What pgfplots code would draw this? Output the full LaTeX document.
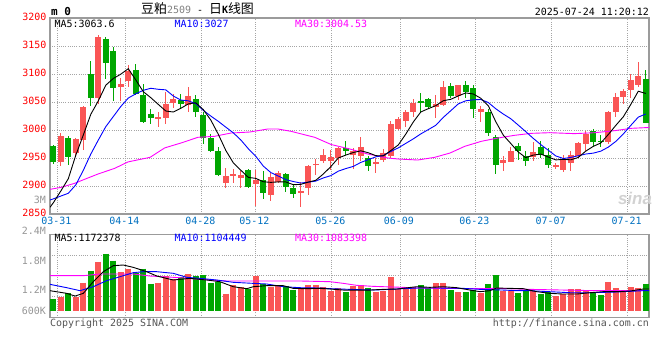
\documentclass[border=0pt]{standalone}
\usepackage{pgfplots}
\pgfplotsset{compat=1.18}
\usepackage{pgfplotstable}
\usepackage{fontspec}
\setmainfont{DejaVu Sans Mono}
\newfontfamily\mono{DejaVu Sans Mono}
\newfontfamily\cjk{Noto Sans CJK SC}
\newfontfamily\lsans{Liberation Sans}
\definecolor{kred}{RGB}{250,85,85}
\definecolor{kgreen}{RGB}{0,166,0}
\definecolor{maten}{RGB}{0,0,255}
\definecolor{mathirty}{RGB}{255,0,255}
\definecolor{datec}{RGB}{0,112,192}
\definecolor{framec}{RGB}{155,155,155}
\definecolor{gridc}{RGB}{165,165,165}
\definecolor{labgray}{RGB}{150,150,150}
\definecolor{footc}{RGB}{85,85,85}

% i open high low close  (red = close above open)
\pgfplotstableread{
i o h l c
1 2942 2994 2935 2990
3 2959.5 2985 2951 2984
4 2983 3042 2965 3040.5
6 3057 3170 3046 3165.5
9 3077 3093 3052 3082
10 3087 3116.7 3076 3106
14 3020.5 3032 3005 3022.5
15 3021 3068 3011 3047
16 3048 3064 3040 3056
18 3044 3077 3033 3061
23 2904.5 2932 2896 2917
24 2919.5 2931 2905 2921.5
25 2915 2926 2896 2920
27 2904 2929 2864 2911
29 2884.5 2923 2874 2915.5
30 2908 2926 2905 2924
33 2889 2908 2862 2891
34 2896 2938 2884.5 2936
35 2938 2949 2920 2940
36 2944 2966.7 2941 2955
37 2944 2964 2928 2952
38 2950 2969 2938 2967
40 2956 2968 2931 2963
41 2953.6 2987 2944 2970
43 2940 2950 2924 2942
44 2946 2966.7 2943 2959.5
45 2953 3016.7 2950 3011
46 3002.4 3024 3000 3020
47 3015.5 3036 3005 3032
48 3031.6 3056 3024 3048.8
51 3040.5 3062 3021 3047
52 3045 3088 3042 3076
54 3061 3081 3054 3080
57 3033 3042 3014 3038
60 2940.5 2953 2926 2947
61 2943 2970 2942 2963
64 2951 2978 2944 2960
67 2935 2941 2931 2937
68 2929 2956 2924.4 2949
69 2941 2962 2927 2956
70 2953 2978 2950 2977
71 2975.6 2997.6 2962 2993.5
74 2978 3034.6 2975 3031.6
75 3031.6 3065.5 3023 3058.3
76 3059.5 3074 3046 3070
77 3072 3100 3057 3089
78 3080 3121.4 3077.6 3097
}\redK

\pgfplotstableread{
i o h l c
0 2972 2973 2939 2942
2 2986 2990 2938 2951
5 3100 3122.6 3042 3057
7 3163 3165.5 3091.7 3119
8 3141.7 3149 3052 3075
11 3108 3118 3062 3065
12 3062 3082 3012 3014
13 3029 3037.5 3011 3021.4
17 3053 3064 3039 3047
19 3056 3063 3023 3032
20 3026 3033 2975 2986
21 2986 2993 2960 2963
22 2963 2970 2918 2920
26 2928 2931 2897 2899
28 2911 2926 2876 2887
31 2922 2924 2890 2899
32 2897 2904 2878.6 2886
39 2967 2980 2956 2962
42 2950 2953 2927 2935
49 3051 3066 3031.6 3049
50 3056 3057 3037.5 3040.5
53 3078 3084 3058 3061
55 3080 3088 3058 3067
56 3075 3080 3021 3037.5
58 3032 3038 2988.7 2994.6
59 2987.5 2990.5 2921 2937
62 2971 2977 2947 2962
63 2953 2962 2935 2944
65 2969 2980 2950 2956
66 2956 2968 2932 2937
72 2997.6 3002 2972 2978.6
73 2981 2990.5 2969 2979
79 3091.7 3107.7 3012 3012
}\greenK

% volume, millions
\pgfplotstableread{
i v
1 1.065
3 1.065
4 1.350
6 1.777
9 1.560
10 1.634
14 1.350
15 1.485
16 1.431
18 1.533
23 1.126
24 1.296
25 1.261
27 1.492
29 1.268
30 1.289
33 1.234
34 1.302
35 1.302
36 1.268
37 1.187
38 1.234
40 1.282
41 1.296
43 1.167
44 1.187
45 1.465
46 1.214
47 1.214
48 1.268
51 1.343
52 1.343
54 1.160
57 1.146
60 1.180
61 1.180
64 1.187
67 1.078
68 1.119
69 1.221
70 1.221
71 1.187
74 1.363
75 1.234
76 1.187
77 1.261
78 1.241
}\redV

\pgfplotstableread{
i v
0 1.018
2 1.137
5 1.594
7 1.939
8 1.797
11 1.553
12 1.634
13 1.329
17 1.472
19 1.492
20 1.506
21 1.350
22 1.370
26 1.221
28 1.316
31 1.289
32 1.207
39 1.160
42 1.241
49 1.302
50 1.248
53 1.200
55 1.160
56 1.200
58 1.323
59 1.506
62 1.137
63 1.187
65 1.119
66 1.160
72 1.133
73 1.099
79 1.323
}\greenV

\pgfplotsset{
  klstyle/.style={
    scale only axis, anchor=south west, width=599bp,
    xmin=-0.44, xmax=79.43,
    axis line style={draw=framec, line width=1.4bp},
    xtick={0.53,9.6,19.73,26.93,37.07,46.22,56.27,66.45,76.59},
    major tick length=0pt,
    grid=major,
    grid style={draw=gridc, line width=0.8bp, dash pattern=on 1bp off 1.2bp},
    tick label style={font=\mono\fontsize{10}{10}\selectfont},
  },
  wick/.style={draw=none, no markers, error bars/.cd, y dir=both, y explicit, error mark=none,
    error bar style={draw=#1, line width=1bp, line cap=butt}},
  body/.style={draw=none, no markers, error bars/.cd, y dir=both, y explicit, error mark=none,
    error bar style={draw=#1, line width=6bp, line cap=butt}},
  volbar/.style={draw=none, no markers, error bars/.cd, y dir=minus, y explicit, error mark=none,
    error bar style={draw=#1, line width=6bp, line cap=butt}},
}

\begin{document}
\begin{tikzpicture}[x=1bp,y=1bp]
\useasboundingbox (0,0) rectangle (660,360);

% ---------- price panel ----------
\begin{axis}[klstyle, at={(50bp,146bp)}, height=196bp,
  ymin=2850, ymax=3200,
  ytick={2850,2900,2950,3000,3050,3100,3150,3200},
  yticklabels={2850,2900,2950,3000,3050,3100,3150,3200},
  xticklabels={03-31,04-14,04-28,05-12,05-26,06-09,06-23,07-07,07-21},
  xticklabel style={text=datec, xshift=-1bp},
  yticklabel style={text=red, yshift=1.5bp},
]
\addplot[wick=kred] table[x=i, y expr=(\thisrow{h}+\thisrow{l})/2, y error expr=(\thisrow{h}-\thisrow{l})/2] {\redK};
\addplot[body=kred] table[x=i, y expr=(\thisrow{o}+\thisrow{c})/2, y error expr={max(abs(\thisrow{c}-\thisrow{o})/2,0.9)}] {\redK};
\addplot[wick=kgreen] table[x=i, y expr=(\thisrow{h}+\thisrow{l})/2, y error expr=(\thisrow{h}-\thisrow{l})/2] {\greenK};
\addplot[body=kgreen] table[x=i, y expr=(\thisrow{o}+\thisrow{c})/2, y error expr={max(abs(\thisrow{c}-\thisrow{o})/2,0.9)}] {\greenK};
% MA30
\addplot[mathirty, line width=0.9bp] coordinates {(-0.44,2894) (1.07,2897.7) (2.85,2904.8) (4.18,2912) (5.96,2921.4) (8.18,2931.5) (9.96,2943) (12.9,2951.2) (14.85,2968) (17.07,2977) (19.3,2987) (21.5,2988.7) (23.7,2994.6) (26.2,2996.4) (28.6,3001.8) (29.96,3001.8) (31.7,2997.6) (34.85,2987) (37.07,2974) (39.56,2966) (41.96,2957) (44.6,2950) (45.96,2948.2) (48.6,2946.4) (50.85,2951.2) (52.9,2958.9) (54.85,2970.8) (57.07,2979.8) (59.3,2985.7) (61.5,2990.5) (63.7,2994) (66.2,2995.2) (69.5,2993.5) (72.2,2995.2) (74.85,2998.8) (77.07,3003) (79.43,3004.5)};
% MA10
\addplot[maten, line width=0.9bp] coordinates {(-0.44,2875) (0,2877) (1,2882) (2,2887) (3,2902) (4,2928) (5,2957) (6,2982) (7,3006) (8,3024) (9,3042) (10,3057.1) (11,3064.6) (12,3070.9) (13,3074.5) (14,3072.7) (15,3071.7) (16,3060.7) (17,3053.5) (18,3052.1) (19,3047.1) (20,3035.1) (21,3024.9) (22,3015.5) (23,3005.1) (24,2995) (25,2982.3) (26,2966.6) (27,2953) (28,2935.6) (29,2924) (30,2917.8) (31,2911.4) (32,2908) (33,2905.3) (34,2906.8) (35,2908.8) (36,2914.4) (37,2918.5) (38,2926.5) (39,2931.1) (40,2935) (41,2942.1) (42,2947) (43,2952.1) (44,2954.5) (45,2961.6) (46,2968.1) (47,2976.1) (48,2984.2) (49,2993) (50,3000.7) (51,3008.4) (52,3022.5) (53,3034.5) (54,3046.6) (55,3052.2) (56,3053.9) (57,3054.5) (58,3049.1) (59,3037.9) (60,3028.5) (61,3020.1) (62,3008.7) (63,2997) (64,2985) (65,2973.9) (66,2963.9) (67,2953.7) (68,2949.1) (69,2951) (70,2954) (71,2957.1) (72,2958.7) (73,2962.2) (74,2969.4) (75,2979.6) (76,2992.9) (77,3008.2) (78,3023) (79,3028.6)};
% MA5
\addplot[black, line width=0.9bp] coordinates {(-0.44,2862) (0,2870) (1,2891) (2,2913) (3,2955) (4,2991) (5,3028) (6,3052) (7,3080) (8,3092) (9,3099.7) (10,3109.5) (11,3089.4) (12,3068.4) (13,3057.7) (14,3045.7) (15,3033.9) (16,3032.1) (17,3038.7) (18,3046.6) (19,3048.6) (20,3036.4) (21,3017.8) (22,2992.4) (23,2963.6) (24,2941.4) (25,2928.2) (26,2915.4) (27,2913.6) (28,2907.6) (29,2906.5) (30,2907.3) (31,2907.3) (32,2902.3) (33,2902.9) (34,2907) (35,2910.2) (36,2921.4) (37,2934.6) (38,2950) (39,2955.2) (40,2959.8) (41,2962.8) (42,2959.4) (43,2954.2) (44,2953.7) (45,2963.3) (46,2973.3) (47,2992.7) (48,3014.3) (49,3032.2) (50,3038.1) (51,3043.5) (52,3052.3) (53,3054.8) (54,3060.9) (55,3066.2) (56,3064.3) (57,3056.7) (58,3043.4) (59,3014.8) (60,2990.8) (61,2975.9) (62,2960.7) (63,2950.6) (64,2955.2) (65,2957) (66,2951.8) (67,2946.6) (68,2947.6) (69,2946.8) (70,2951) (71,2962.3) (72,2970.8) (73,2976.8) (74,2991.9) (75,3008.2) (76,3023.5) (77,3045.6) (78,3069.2) (79,3065.3)};
\end{axis}

% ---------- volume panel ----------
\begin{axis}[klstyle, at={(50bp,42.3bp)}, height=83.4bp,
  ymin=0.638, ymax=2.333,
  ytick={1.079,1.5,1.912}, yticklabels={}, xticklabels={},
]
\addplot[volbar=kred] table[x=i, y=v, y error expr=\thisrow{v}-0.781] {\redV};
\addplot[volbar=kgreen] table[x=i, y=v, y error expr=\thisrow{v}-0.781] {\greenV};
% MA30 volume
\addplot[mathirty, line width=0.9bp] coordinates {(-0.44,1.492) (4,1.492) (6.2,1.526) (10.67,1.526) (12.9,1.485) (16.9,1.451) (19.56,1.418) (23.1,1.384) (28.45,1.384) (32.9,1.384) (36.9,1.370) (38.67,1.336) (40.45,1.296) (42.67,1.275) (46.67,1.255) (48.45,1.241) (51.56,1.234) (56.45,1.228) (59.1,1.234) (63.56,1.214) (68,1.2) (72.45,1.187) (79.43,1.194)};
% MA10 volume
\addplot[maten, line width=0.9bp] coordinates {(-0.44,1.316) (1.79,1.248) (3.56,1.187) (5.33,1.268) (7.1,1.390) (8.9,1.472) (10.67,1.553) (12,1.573) (13.8,1.573) (16,1.540) (17.8,1.458) (19.56,1.438) (21.8,1.404) (24,1.357) (26.67,1.336) (28.45,1.323) (30.67,1.268) (32.9,1.248) (35.56,1.241) (36.9,1.228) (39.56,1.214) (42.67,1.2) (45.8,1.221) (48.45,1.241) (51.56,1.241) (54.67,1.234) (56.9,1.214) (60,1.2) (61.8,1.187) (63.56,1.187) (65.3,1.173) (67.1,1.160) (68.9,1.146) (71.56,1.146) (75.1,1.160) (78.67,1.187) (79.43,1.187)};
% MA5 volume
\addplot[black, line width=0.9bp] coordinates {(-0.44,1.187) (1.79,1.133) (2.9,1.078) (4,1.133) (5.33,1.370) (6.67,1.573) (8,1.695) (9.33,1.709) (10.67,1.661) (12.45,1.573) (13.8,1.485) (16,1.404) (18.2,1.438) (20.45,1.404) (22.2,1.370) (24,1.268) (25.8,1.228) (26.67,1.268) (28.45,1.289) (30.67,1.289) (32,1.234) (33.8,1.228) (35.56,1.234) (36.9,1.221) (38.67,1.2) (40.45,1.2) (42.2,1.2) (44,1.214) (45.8,1.221) (48.45,1.268) (50.2,1.255) (52,1.268) (53.8,1.248) (55.56,1.2) (56.9,1.167) (58.2,1.187) (59.1,1.241) (60.9,1.234) (62.67,1.228) (64.45,1.167) (66.2,1.133) (68,1.119) (69.8,1.119) (71.56,1.146) (73.3,1.167) (75.1,1.167) (76.9,1.180) (78.67,1.221) (79.43,1.221)};
\end{axis}

% ---------- texts ----------
\begin{scope}[every node/.style={inner sep=0pt, font=\mono\fontsize{10}{10}\selectfont}]
\node[anchor=west, font=\mono\bfseries\fontsize{11}{11}\selectfont] at (51,348) {m 0};
\node[anchor=west] at (141,351) {{\cjk\fontsize{13}{13}\selectfont 豆粕}{\color{gray}2509} - {\cjk\fontsize{13}{13}\selectfont 日}{\bfseries K}{\cjk\fontsize{13}{13}\selectfont 线图}};
\node[anchor=east] at (649,348) {2025-07-24 11:20:12};
\node[anchor=west] at (54.5,336.3) {MA5:3063.6};
\node[anchor=west, text=maten] at (174.5,336.3) {MA10:3027};
\node[anchor=west, text=mathirty] at (295,336.3) {MA30:3004.53};
\node[anchor=west] at (54.5,121.7) {MA5:1172378};
\node[anchor=west, text=maten] at (174.5,121.7) {MA10:1104449};
\node[anchor=west, text=mathirty] at (295,121.7) {MA30:1083398};
\node[anchor=east, text=labgray] at (46,160) {3M};
\node[anchor=east, text=labgray] at (46,129) {2.4M};
\node[anchor=east, text=labgray] at (46,99.3) {1.8M};
\node[anchor=east, text=labgray] at (46,70) {1.2M};
\node[anchor=east, text=labgray] at (46,49.3) {600K};
\node[anchor=west, text=footc] at (50,36.5) {Copyright 2025 SINA.COM};
\node[anchor=east, text=footc] at (649,36.5) {http://finance.sina.com.cn};
\node[text=gray!35, font=\lsans\bfseries\itshape\fontsize{17}{17}\selectfont] at (635,162) {sina};
\end{scope}
\end{tikzpicture}
\end{document}
